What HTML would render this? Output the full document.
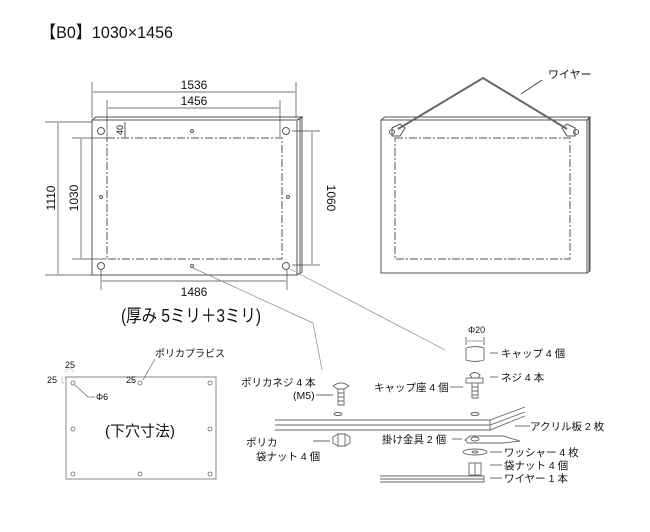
<!DOCTYPE html>
<html><head><meta charset="utf-8"><style>
body{margin:0;background:#fff;width:650px;height:532px;overflow:hidden}
svg{display:block}
text{font-family:"Liberation Sans","Noto Sans CJK JP",sans-serif;fill:#111}
</style></head><body>
<svg width="650" height="532" viewBox="0 0 650 532" xmlns="http://www.w3.org/2000/svg">
<text x="40" y="38" font-size="17" textLength="133" lengthAdjust="spacingAndGlyphs">【B0】1030×1456</text>

<!-- Left front panel -->
<g stroke="#555" fill="none" stroke-width="1">
<rect x="92" y="120" width="205" height="155" fill="#fff"/>
<path d="M92,120 L96,117 L302,117 L298,120"/>
<path d="M297,120 L302,117 L302,272 L297,275"/>
<line x1="300" y1="118" x2="300" y2="274"/>
<rect x="107" y="138" width="175" height="121" stroke-dasharray="8,2,2,2"/>
<circle cx="101" cy="131" r="3.5"/><circle cx="286" cy="131" r="3.5"/>
<circle cx="101" cy="266" r="3.5"/><circle cx="286" cy="266" r="3.5"/>
<circle cx="192" cy="131" r="1.5"/><circle cx="192" cy="266" r="1.5"/>
<circle cx="101" cy="197" r="1.5"/><circle cx="288" cy="197" r="1.5"/>
<line x1="125" y1="122" x2="125" y2="137"/>
</g>
<g stroke="#444" stroke-width="0.7" fill="none">
<line x1="92" y1="82" x2="92" y2="118"/><line x1="296" y1="82" x2="296" y2="118"/>
<line x1="93" y1="92" x2="295" y2="92"/>
<line x1="107" y1="100" x2="107" y2="137"/><line x1="280" y1="100" x2="280" y2="137"/>
<line x1="108" y1="108" x2="279" y2="108"/>
<line x1="45" y1="122" x2="92" y2="122"/><line x1="45" y1="275" x2="92" y2="275"/>
<line x1="58" y1="123" x2="58" y2="274"/>
<line x1="72" y1="138" x2="107" y2="138"/><line x1="72" y1="259" x2="107" y2="259"/>
<line x1="81" y1="139" x2="81" y2="258"/>
<line x1="292" y1="131" x2="320" y2="131"/><line x1="292" y1="265" x2="320" y2="265"/>
<line x1="312" y1="132" x2="312" y2="264"/>
<line x1="101" y1="270" x2="101" y2="290"/><line x1="287" y1="270" x2="287" y2="290"/>
<line x1="102" y1="281" x2="286" y2="281"/>
</g>
<g stroke="#888" stroke-width="0.7" fill="none">
<path d="M193,268 L313,323 L322,370"/>
<line x1="290" y1="269" x2="445" y2="350"/>
</g>
<g font-size="12" text-anchor="middle">
<text x="194" y="89">1536</text><text x="194" y="105">1456</text>
<text x="194" y="296">1486</text>
<text transform="translate(55,198) rotate(-90)">1110</text>
<text transform="translate(78,198) rotate(-90)">1030</text>
<text transform="translate(327,198) rotate(90)">1060</text>
<text transform="translate(123,130) rotate(-90)" font-size="9">40</text>
</g>
<text x="121" y="322" font-size="18" textLength="140" lengthAdjust="spacingAndGlyphs">(厚み 5ミリ＋3ミリ)</text>

<!-- Right panel -->
<g stroke="#555" fill="none" stroke-width="1">
<rect x="381" y="120" width="206" height="153" fill="#fff"/>
<path d="M381,120 L385,117 L590,117 L587,120"/>
<path d="M587,120 L590,117 L590,271 L587,273"/>
<line x1="589" y1="118" x2="589" y2="272"/>
<rect x="395" y="138" width="175" height="121" stroke-dasharray="8,2,2,2"/>
<path d="M392,128 L400,124 L405,128 L400,136 L392,136 Z"/>
<path d="M575,128 L567,124 L562,128 L567,136 L575,136 Z"/>
<circle cx="392" cy="132" r="2.5"/><circle cx="576" cy="132" r="2.5"/>
</g>
<path d="M398,129 L483,78 L567,129" stroke="#666" stroke-width="2" fill="none"/>
<line x1="542" y1="80" x2="521" y2="94" stroke="#333" stroke-width="0.8"/>
<text x="548" y="78" font-size="11">ワイヤー</text>

<!-- Bottom-left plate -->
<g stroke="#666" fill="none" stroke-width="1">
<rect x="66" y="377" width="150" height="102" stroke="#888"/>
<g stroke-width="0.8">
<circle cx="73" cy="383" r="2"/><circle cx="140" cy="383" r="2"/><circle cx="210" cy="383" r="2"/>
<circle cx="73" cy="429" r="2"/><circle cx="210" cy="429" r="2"/>
<circle cx="73" cy="474" r="2"/><circle cx="140" cy="474" r="2"/><circle cx="210" cy="474" r="2"/>
</g>
<path d="M75,385 L88,397 L95,397" stroke-width="0.7"/>
<line x1="155" y1="359" x2="143" y2="380" stroke-width="0.7"/>
<path d="M66,372 L66,369 L73,369 L73,372 M65,377 L62,377 L62,383 L65,383 M136,377 L133,377 L133,383 L136,383" stroke-width="0.6" stroke-dasharray="1,1"/>
</g>
<g font-size="9">
<text x="65" y="368">25</text><text x="47" y="383">25</text><text x="126" y="383">25</text>
<text x="96" y="400">Φ6</text>
</g>
<text x="155" y="357" font-size="10">ポリカプラビス</text>
<text x="140" y="436" font-size="15" text-anchor="middle">(下穴寸法)</text>

<!-- Exploded -->
<g stroke="#666" fill="none" stroke-width="0.9">
<path d="M275,420 L490,420 L525,407 M275,425 L490,425 L525,412 M275,430 L490,430 L525,416"/>
<path d="M490,420 L490,430"/>
<ellipse cx="338" cy="414" rx="4" ry="1.5"/><ellipse cx="475" cy="414" rx="4" ry="1.5"/>
<path d="M333,386 Q341,380 349,386 L344,389 L338,389 Z"/>
<path d="M338,389 L338,405 L344,405 L344,389"/>
<path d="M338,393 h6 M338,397 h6 M338,401 h6"/>
<path d="M333,437 L338,434 L345,434 L350,437 L350,443 L345,446 L338,446 L333,443 Z M338,434 L338,446 M345,434 L345,446"/>
<path d="M466,348 L466,360 Q475,363 484,360 L484,348 Q475,345 466,348"/>
<path d="M470,375 Q475,370 480,375 L478,378 L472,378 Z"/>
<rect x="466" y="378" width="17" height="5"/>
<path d="M472,383 L472,398 L478,398 L478,383 M472,387h6M472,391h6M472,395h6"/>
<line x1="466" y1="337" x2="466" y2="345"/><line x1="484" y1="337" x2="484" y2="345"/>
<line x1="467" y1="341" x2="483" y2="341" stroke-width="0.6"/>
<path d="M465,440 L470,436 L503,436 L520,441 L503,443 L468,443 Z"/>
<ellipse cx="475" cy="439" rx="4" ry="2"/>
<ellipse cx="475" cy="452" rx="12" ry="3"/><ellipse cx="475" cy="452" rx="3" ry="1"/>
<rect x="469" y="463" width="12" height="12"/><line x1="475" y1="463" x2="475" y2="475"/>
<path d="M380,476 L484,476 L484,482 L380,482 M380,479 L484,479"/>
</g>
<g stroke="#333" stroke-width="0.7">
<line x1="490" y1="353" x2="498" y2="353"/><line x1="490" y1="377" x2="498" y2="377"/>
<line x1="450" y1="387" x2="463" y2="387"/><line x1="316" y1="395" x2="333" y2="395"/>
<line x1="515" y1="426" x2="530" y2="426"/><line x1="452" y1="439" x2="462" y2="439"/>
<line x1="490" y1="452" x2="502" y2="452"/><line x1="490" y1="465" x2="502" y2="465"/>
<line x1="490" y1="478" x2="502" y2="478"/><line x1="313" y1="441" x2="330" y2="441"/>
</g>
<g font-size="10.5">
<text x="468" y="333" font-size="9">Φ20</text>
<text x="501" y="357">キャップ 4 個</text>
<text x="501" y="381">ネジ 4 本</text>
<text x="374" y="391">キャップ座 4 個</text>
<text x="241" y="386">ポリカネジ 4 本</text>
<text x="293" y="399">(M5)</text>
<text x="530" y="430">アクリル板 2 枚</text>
<text x="382" y="443">掛け金具 2 個</text>
<text x="504" y="456">ワッシャー 4 枚</text>
<text x="504" y="469">袋ナット 4 個</text>
<text x="504" y="482">ワイヤー 1 本</text>
<text x="246" y="446">ポリカ</text>
<text x="256" y="460">袋ナット 4 個</text>
</g>
</svg>
</body></html>
